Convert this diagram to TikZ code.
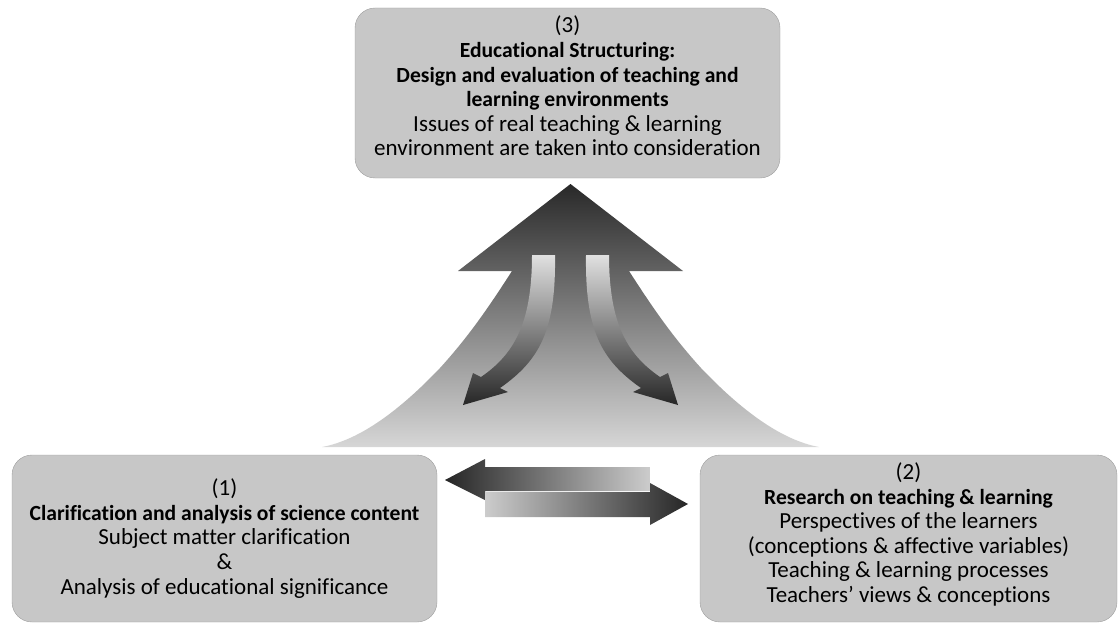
\documentclass[tikz,border=0pt]{standalone}
\usepackage{fontspec}
\setmainfont{Carlito}[Ligatures={TeX,NoCommon}]
\newcommand{\stagehead}[1]{{\fontsize{21.6}{24.6}\selectfont\bfseries #1}}
\tikzset{
  stagebox/.style={draw=black!38,fill=black!22,rounded corners=20pt,inner sep=0pt},
  stagetext/.style={align=center,font=\fontsize{23}{24.6}\selectfont,inner sep=0pt},
  bigarrow/.style={top color=black!84,bottom color=black!16},
  turnarrow/.style={top color=black!12,bottom color=black!85},
}

\begin{document}
\begin{tikzpicture}[x=1pt,y=-1pt]
  \useasboundingbox (0,0) rectangle (1118,623);

  % rising arrow from the two bases up to the structuring box
  \shade[bigarrow] (570.5,184) -- (683,271) -- (629,271)
    .. controls (651,305) and (671,335) .. (701,368)
    .. controls (741,410) and (781,440) .. (819,447) -- (322,447)
    .. controls (360,440) and (400,410) .. (440,368)
    .. controls (470,335) and (490,305) .. (512,271) -- (458,271) -- cycle;

  % feedback arrows bending back down
  \shade[turnarrow] (532,255) -- (555,255) .. controls (556,330) and (540,360) .. (500,388)
    -- (508,392) -- (463,405) -- (473,373) -- (481,377)
    .. controls (513,355) and (532,325) .. (532,255) -- cycle;
  \begin{scope}[xshift=1141pt,xscale=-1]
    \shade[turnarrow] (532,255) -- (555,255) .. controls (556,330) and (540,360) .. (500,388)
      -- (508,392) -- (463,405) -- (473,373) -- (481,377)
      .. controls (513,355) and (532,325) .. (532,255) -- cycle;
  \end{scope}

  % exchange between (1) and (2)
  \shade[left color=black!85,right color=black!20] (445,480) -- (485,459) -- (485,467)
    -- (650,467) -- (650,491) -- (485,491) -- (485,500) -- cycle;
  \shade[left color=black!20,right color=black!85] (485,492) -- (650,492) -- (650,483)
    -- (688,504) -- (650,525) -- (650,517) -- (485,517) -- cycle;

  \node[stagebox,minimum width=425pt,minimum height=170pt] (structuring) at (567.5,93) {};
  \node[stagebox,minimum width=425pt,minimum height=167pt] (content) at (224.5,538.5) {};
  \node[stagebox,minimum width=417pt,minimum height=167pt] (research) at (908.5,538.5) {};

  \node[stagetext] (structuringtext) at ([yshift=7pt]structuring.center)
    {(3)\\ \stagehead{Educational Structuring:}\\ \stagehead{Design and evaluation of teaching and}\\
     \stagehead{learning environments}\\ Issues of real teaching \& learning\\
     environment are taken into consideration};
  \node[stagetext] (contenttext) at (content.center)
    {(1)\\ \stagehead{Clarification and analysis of science content}\\ Subject matter clarification\\
     \&\\ Analysis of educational significance};
  \node[stagetext] (researchtext) at ([yshift=4pt]research.center)
    {(2)\\ \stagehead{Research on teaching \& learning}\\ Perspectives of the learners\\
     (conceptions \& affective variables)\\ Teaching \& learning processes\\
     Teachers’ views \& conceptions};
\end{tikzpicture}
\end{document}
